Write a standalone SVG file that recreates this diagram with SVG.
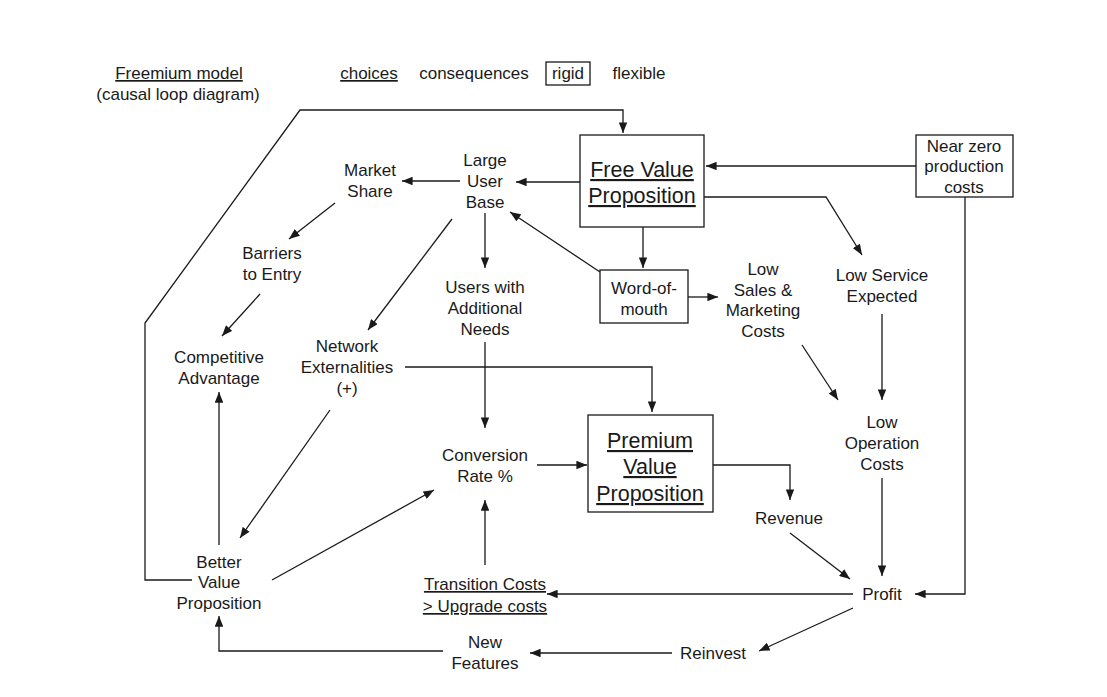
<svg xmlns="http://www.w3.org/2000/svg" width="1107" height="697" viewBox="0 0 1107 697">
<defs>
<marker id="ah" viewBox="0 0 10 8" refX="10" refY="4" markerWidth="11" markerHeight="8.5" markerUnits="userSpaceOnUse" orient="auto">
<path d="M0,0 L10,4 L0,8 Z" fill="#1a1a1a"/>
</marker>
<style>
text{font-family:"Liberation Sans",Arial,sans-serif;font-size:17px;fill:#1a1a1a;text-anchor:middle}
.u{text-decoration:underline}
.big{font-size:21.5px}
.box{fill:none;stroke:#1a1a1a;stroke-width:1.3}
.c path{fill:none;stroke:#1a1a1a;stroke-width:1.3;marker-end:url(#ah)}
.c path.n{marker-end:none}
</style>
</defs>
<rect width="1107" height="697" fill="#fff"/>

<g id="legend">
<text x="179" y="79" class="u">Freemium model</text>
<text x="178" y="100">(causal loop diagram)</text>
<text x="369" y="79" class="u">choices</text>
<text x="474" y="79">consequences</text>
<rect x="546" y="62" width="44" height="23" class="box"/>
<text x="568" y="79">rigid</text>
<text x="639" y="79">flexible</text>
</g>

<g id="free-value">
<rect x="580" y="135" width="124" height="92" class="box"/>
<text x="642" y="177" class="u big">Free Value</text>
<text x="642" y="203" class="u big">Proposition</text>
</g>
<g id="near-zero">
<rect x="916" y="135" width="97" height="62" class="box"/>
<text x="964" y="152">Near zero</text>
<text x="964" y="172">production</text>
<text x="964" y="193">costs</text>
</g>
<g id="large-user-base">
<text x="485" y="166">Large</text>
<text x="485" y="187">User</text>
<text x="485" y="208">Base</text>
</g>
<g id="market-share">
<text x="370" y="176">Market</text>
<text x="370" y="197">Share</text>
</g>
<g id="barriers">
<text x="272" y="259">Barriers</text>
<text x="272" y="280">to Entry</text>
</g>
<g id="competitive">
<text x="219" y="363">Competitive</text>
<text x="219" y="384">Advantage</text>
</g>
<g id="network">
<text x="347" y="352">Network</text>
<text x="347" y="373">Externalities</text>
<text x="347" y="394">(+)</text>
</g>
<g id="users-needs">
<text x="485" y="293">Users with</text>
<text x="485" y="314">Additional</text>
<text x="485" y="335">Needs</text>
</g>
<g id="word-of-mouth">
<rect x="600" y="270" width="88" height="53" class="box"/>
<text x="644" y="294">Word-of-</text>
<text x="644" y="315">mouth</text>
</g>
<g id="low-sales">
<text x="763" y="275">Low</text>
<text x="763" y="296">Sales &amp;</text>
<text x="763" y="316">Marketing</text>
<text x="763" y="337">Costs</text>
</g>
<g id="low-service">
<text x="882" y="281">Low Service</text>
<text x="882" y="302">Expected</text>
</g>
<g id="low-operation">
<text x="882" y="428">Low</text>
<text x="882" y="449">Operation</text>
<text x="882" y="470">Costs</text>
</g>
<g id="conversion">
<text x="485" y="461">Conversion</text>
<text x="485" y="482">Rate %</text>
</g>
<g id="premium">
<rect x="588" y="415" width="125" height="97" class="box"/>
<text x="650" y="448" class="u big">Premium</text>
<text x="650" y="474" class="u big">Value</text>
<text x="650" y="501" class="u big">Proposition</text>
</g>
<g id="revenue">
<text x="789" y="524">Revenue</text>
</g>
<g id="profit">
<text x="882" y="600">Profit</text>
</g>
<g id="transition">
<text x="485" y="590" class="u">Transition Costs</text>
<text x="485" y="612" class="u">&gt; Upgrade costs</text>
</g>
<g id="better-value">
<text x="219" y="568">Better</text>
<text x="219" y="588">Value</text>
<text x="219" y="609">Proposition</text>
</g>
<g id="new-features">
<text x="485" y="648">New</text>
<text x="485" y="669">Features</text>
</g>
<g id="reinvest">
<text x="713" y="659">Reinvest</text>
</g>

<g id="connectors" class="c">
<path d="M192,580 H145 V323 L300,110 H623 V133"/>
<path d="M916,166 H706"/>
<path d="M580,182 H516"/>
<path d="M460,181 H402"/>
<path d="M335,203 L289,239"/>
<path d="M260,294 L222,336"/>
<path d="M219,545 V392"/>
<path d="M452,219 L368,330"/>
<path d="M330,410 L240,538"/>
<path d="M405,367 H652 V412"/>
<path d="M485,213 V268"/>
<path d="M485,342 V428"/>
<path d="M537,465 H587"/>
<path d="M272,580 L434,490"/>
<path d="M485,565 V500"/>
<path d="M713,465 H790 V500"/>
<path d="M790,533 L850,579"/>
<path d="M643,227 V268"/>
<path d="M600,272 L510,212"/>
<path d="M688,297 H718"/>
<path d="M802,345 L838,400"/>
<path d="M704,197 H826 L862,255"/>
<path d="M882,314 V400"/>
<path d="M882,478 V576"/>
<path d="M965,197 V594 H915"/>
<path d="M853,594 H547"/>
<path d="M853,608 L759,651"/>
<path d="M672,653 H530"/>
<path d="M443,651 H219 V616"/>
</g>
</svg>
